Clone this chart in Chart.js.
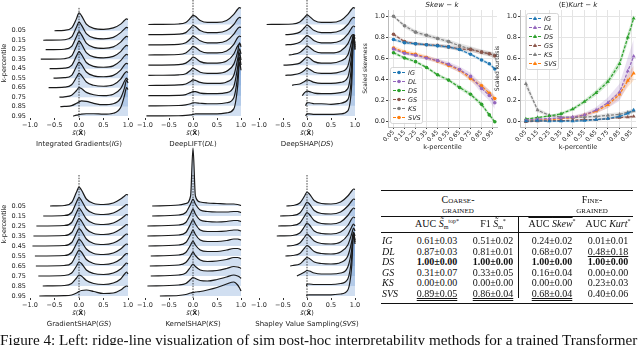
<!DOCTYPE html>
<html>
<head>
<meta charset="utf-8">
<script src="https://cdn.jsdelivr.net/npm/chart.js@4.4.1/dist/chart.umd.min.js"></script>
<style>
  body { margin: 0; width: 640px; height: 345px; overflow: hidden; background: #fff; position: relative; font-family: "DejaVu Sans", sans-serif; color: #222; }
  canvas { position: absolute; }
  .t { position: absolute; white-space: nowrap; transform: translate(-50%, -50%); line-height: 1; }
  .serif { font-family: "Liberation Serif", serif; color: #111; }
  .rule { position: absolute; background: #111; }
  .u1 { text-decoration: underline; text-underline-offset: 1px; }
  .u2 { text-decoration: underline double; text-underline-offset: 1px; }
</style>
</head>
<body>

<canvas id="rIG" width="138" height="130" style="left:0;top:0"></canvas>
<canvas id="rDL" width="136" height="130" style="left:115px;top:0"></canvas>
<canvas id="rDS" width="136" height="130" style="left:229px;top:0"></canvas>
<canvas id="rGS" width="138" height="170" style="left:0;top:140px"></canvas>
<canvas id="rKS" width="136" height="170" style="left:115px;top:140px"></canvas>
<canvas id="rSVS" width="136" height="170" style="left:229px;top:140px"></canvas>
<canvas id="skew" width="139" height="151" style="left:362px;top:0"></canvas>
<canvas id="kurt" width="146" height="151" style="left:494px;top:0"></canvas>

<div id="labels"></div>
<div id="table"></div>

<div class="serif" style="position:absolute;left:0;top:332px;font-size:15.2px;line-height:16px;white-space:nowrap">Figure 4: Left: ridge-line visualization of sim post-hoc interpretability methods for a trained Transformer</div>

<script>
// ridge-line data -----------------------------------------------------
const kLabels = ['0.05', '0.15', '0.25', '0.35', '0.45', '0.55', '0.65', '0.75', '0.85', '0.95'];
const gridX = [-0.3, -0.15, -0.05, 0, 0.05, 0.15, 0.3, 0.5, 0.7, 0.85, 0.93, 0.97, 1.0];

const igStart = [-0.5, -0.73, -0.68, -0.78, -0.6, -0.52, -0.62, -0.4, -0.38, -0.12];
const igRows = [
  [0.05, 0.3, 1.3, 1.9, 1.6, 0.7, 0.25, 0.15, 0.3, 0.7, 1.1, 1.25, 1.2],
  [0.05, 0.35, 1.4, 1.9, 1.6, 0.7, 0.25, 0.15, 0.3, 0.8, 1.2, 1.35, 1.3],
  [0.05, 0.35, 1.4, 1.9, 1.6, 0.7, 0.25, 0.15, 0.3, 0.8, 1.25, 1.4, 1.35],
  [0.05, 0.35, 1.4, 1.9, 1.6, 0.7, 0.25, 0.15, 0.3, 0.8, 1.3, 1.45, 1.4],
  [0.05, 0.35, 1.35, 1.8, 1.5, 0.65, 0.25, 0.15, 0.3, 0.85, 1.35, 1.5, 1.45],
  [0.05, 0.3, 1.25, 1.7, 1.45, 0.65, 0.25, 0.15, 0.3, 0.85, 1.4, 1.55, 1.5],
  [0.05, 0.3, 1.1, 1.5, 1.3, 0.6, 0.25, 0.15, 0.3, 0.9, 1.5, 1.7, 1.6],
  [0.03, 0.2, 0.7, 1.0, 0.9, 0.5, 0.25, 0.15, 0.3, 0.9, 1.7, 2.0, 1.8],
  [0.02, 0.1, 0.35, 0.5, 0.6, 0.55, 0.35, 0.2, 0.3, 0.9, 2.0, 2.8, 2.5],
  [0.0, 0.0, 0.1, 0.15, 0.2, 0.25, 0.25, 0.2, 0.3, 0.9, 2.2, 3.0, 2.8]
];

const dlStart = [-0.93, -0.93, -0.93, -0.93, -0.93, -0.93, -0.93, -0.93, -0.93, -0.97];
const dlRows = [
  [0.05, 0.2, 0.65, 0.9, 0.8, 0.4, 0.2, 0.2, 0.4, 1.0, 1.5, 1.65, 1.6],
  [0.05, 0.2, 0.65, 0.9, 0.8, 0.4, 0.2, 0.2, 0.4, 1.0, 1.55, 1.7, 1.65],
  [0.05, 0.2, 0.6, 0.85, 0.75, 0.4, 0.2, 0.2, 0.4, 1.05, 1.6, 1.75, 1.7],
  [0.05, 0.2, 0.6, 0.85, 0.75, 0.4, 0.2, 0.2, 0.4, 1.05, 1.7, 1.85, 1.8],
  [0.05, 0.2, 0.55, 0.8, 0.7, 0.35, 0.2, 0.2, 0.4, 1.1, 1.9, 2.1, 2.0],
  [0.05, 0.15, 0.5, 0.7, 0.6, 0.3, 0.2, 0.2, 0.4, 1.1, 2.3, 3.2, 2.8],
  [0.05, 0.15, 0.4, 0.55, 0.5, 0.3, 0.2, 0.2, 0.35, 1.0, 2.6, 3.6, 3.1],
  [0.03, 0.1, 0.3, 0.4, 0.4, 0.25, 0.2, 0.2, 0.3, 0.9, 2.8, 4.2, 3.5],
  [0.03, 0.1, 0.2, 0.3, 0.3, 0.25, 0.2, 0.2, 0.3, 0.8, 2.9, 4.8, 4.0],
  [0.02, 0.05, 0.1, 0.15, 0.2, 0.2, 0.2, 0.2, 0.3, 0.7, 2.9, 5.3, 4.5]
];

const dsStart = [-0.84, -0.45, -0.45, -0.38, -0.49, -0.45, -0.31, -0.1, -0.03, -0.03];
const dsRows = [
  [0.05, 0.25, 0.7, 0.95, 0.8, 0.4, 0.2, 0.2, 0.4, 1.0, 1.5, 1.65, 1.6],
  [0.05, 0.25, 0.7, 0.95, 0.8, 0.4, 0.2, 0.2, 0.4, 1.0, 1.55, 1.7, 1.65],
  [0.05, 0.25, 0.7, 0.9, 0.8, 0.4, 0.2, 0.2, 0.4, 1.05, 1.65, 1.85, 1.75],
  [0.05, 0.25, 0.65, 0.9, 0.75, 0.4, 0.2, 0.2, 0.4, 1.1, 1.9, 2.0, 1.9],
  [0.05, 0.2, 0.6, 0.8, 0.7, 0.35, 0.2, 0.2, 0.4, 1.0, 2.3, 3.0, 2.6],
  [0.05, 0.2, 0.5, 0.7, 0.6, 0.3, 0.2, 0.2, 0.35, 0.9, 2.6, 3.8, 3.2],
  [0.03, 0.15, 0.4, 0.55, 0.5, 0.3, 0.2, 0.2, 0.3, 0.8, 2.9, 4.8, 4.0],
  [0.0, 0.0, 0.3, 0.45, 0.4, 0.25, 0.2, 0.2, 0.3, 0.7, 3.0, 5.8, 4.8],
  [0.0, 0.0, 0.0, 0.3, 0.3, 0.2, 0.2, 0.15, 0.25, 0.6, 3.0, 6.8, 5.6],
  [0.0, 0.0, 0.0, 0.2, 0.2, 0.15, 0.15, 0.15, 0.2, 0.5, 3.0, 7.8, 6.5]
];

const gsStart = [-0.59, -0.73, -0.87, -0.93, -0.95, -0.9, -0.88, -0.83, -0.74, -0.81];
const gsRows = [
  [0.05, 0.35, 1.4, 1.9, 1.6, 0.7, 0.25, 0.15, 0.3, 0.7, 1.0, 1.15, 1.1],
  [0.05, 0.35, 1.4, 1.85, 1.55, 0.7, 0.25, 0.15, 0.3, 0.7, 1.0, 1.15, 1.1],
  [0.05, 0.35, 1.35, 1.8, 1.5, 0.7, 0.25, 0.15, 0.3, 0.7, 1.0, 1.15, 1.1],
  [0.05, 0.35, 1.3, 1.75, 1.5, 0.7, 0.25, 0.15, 0.3, 0.7, 1.0, 1.15, 1.1],
  [0.05, 0.35, 1.3, 1.75, 1.5, 0.7, 0.25, 0.15, 0.3, 0.7, 1.05, 1.2, 1.15],
  [0.05, 0.35, 1.25, 1.7, 1.45, 0.7, 0.25, 0.15, 0.3, 0.7, 1.05, 1.2, 1.15],
  [0.05, 0.3, 1.2, 1.6, 1.4, 0.65, 0.25, 0.15, 0.3, 0.7, 1.1, 1.25, 1.2],
  [0.05, 0.3, 1.0, 1.4, 1.25, 0.6, 0.25, 0.15, 0.3, 0.7, 1.1, 1.3, 1.2],
  [0.05, 0.25, 0.8, 1.1, 1.0, 0.55, 0.25, 0.15, 0.3, 0.7, 1.2, 1.4, 1.2],
  [0.03, 0.1, 0.3, 0.45, 0.55, 0.6, 0.45, 0.25, 0.3, 0.6, 0.9, 1.0, 0.95]
];

const ksStart = [-0.85, -0.85, -0.95, -0.95, -0.93, -0.88, -0.9, -0.88, -0.95, -0.69];
const ksRows = [
  [0.1, 0.25, 1.0, 5.8, 1.0, 0.4, 0.3, 0.25, 0.2, 0.2, 0.15, 0.1, 0.05],
  [0.1, 0.35, 1.2, 1.7, 1.2, 0.6, 0.45, 0.4, 0.4, 0.45, 0.45, 0.4, 0.35],
  [0.1, 0.35, 1.2, 1.7, 1.2, 0.6, 0.45, 0.4, 0.45, 0.55, 0.55, 0.5, 0.45],
  [0.1, 0.35, 1.2, 1.65, 1.2, 0.6, 0.45, 0.45, 0.5, 0.6, 0.6, 0.55, 0.5],
  [0.1, 0.35, 1.15, 1.6, 1.15, 0.6, 0.45, 0.45, 0.55, 0.7, 0.7, 0.65, 0.6],
  [0.1, 0.35, 1.1, 1.5, 1.1, 0.6, 0.45, 0.45, 0.6, 0.75, 0.75, 0.7, 0.6],
  [0.1, 0.35, 1.0, 1.4, 1.05, 0.6, 0.45, 0.5, 0.65, 0.85, 0.85, 0.8, 0.7],
  [0.1, 0.3, 0.9, 1.2, 0.95, 0.6, 0.5, 0.55, 0.75, 0.95, 0.9, 0.85, 0.75],
  [0.1, 0.25, 0.65, 0.85, 0.75, 0.55, 0.5, 0.65, 0.9, 1.1, 1.0, 0.9, 0.75],
  [0.05, 0.15, 0.3, 0.35, 0.4, 0.45, 0.6, 0.85, 1.2, 1.4, 1.1, 0.8, 0.5]
];

const svsStart = [-0.43, -0.56, -0.6, -0.63, -0.42, -0.45, -0.35, -0.21, -0.01, -0.01];
const svsRows = [
  [0.05, 0.3, 1.0, 1.4, 1.2, 0.55, 0.25, 0.2, 0.4, 1.0, 1.5, 1.7, 1.65],
  [0.05, 0.3, 1.0, 1.4, 1.2, 0.55, 0.25, 0.2, 0.4, 1.0, 1.5, 1.7, 1.65],
  [0.05, 0.3, 1.0, 1.35, 1.15, 0.55, 0.25, 0.2, 0.4, 1.05, 1.6, 1.8, 1.7],
  [0.05, 0.3, 0.95, 1.3, 1.1, 0.5, 0.25, 0.2, 0.4, 1.05, 1.7, 1.9, 1.8],
  [0.05, 0.3, 0.9, 1.2, 1.0, 0.5, 0.25, 0.2, 0.4, 1.1, 1.9, 2.2, 2.0],
  [0.05, 0.25, 0.8, 1.05, 0.9, 0.45, 0.25, 0.2, 0.4, 1.1, 2.2, 2.8, 2.5],
  [0.05, 0.2, 0.65, 0.85, 0.75, 0.4, 0.25, 0.2, 0.35, 1.0, 2.4, 3.4, 3.0],
  [0.03, 0.15, 0.4, 0.55, 0.5, 0.3, 0.2, 0.2, 0.3, 0.9, 2.6, 4.3, 3.6],
  [0.0, 0.0, 0.0, 0.2, 0.2, 0.15, 0.15, 0.15, 0.25, 0.7, 2.8, 5.3, 4.4],
  [0.0, 0.0, 0.0, 0.1, 0.12, 0.12, 0.12, 0.12, 0.2, 0.6, 2.9, 6.2, 5.2]
];

// skew / kurt data ------------------------------------------------------
const methods = ['IG', 'DL', 'DS', 'GS', 'KS', 'SVS'];
const kValues = [0.05, 0.15, 0.25, 0.35, 0.45, 0.55, 0.65, 0.75, 0.85, 0.92, 0.97];
const kTicks = [0.05, 0.15, 0.25, 0.35, 0.45, 0.55, 0.65, 0.75, 0.85, 0.95];

const skewIG = [0.78, 0.75, 0.74, 0.73, 0.72, 0.71, 0.685, 0.64, 0.585, 0.55, 0.50];
const skewDL = [0.69, 0.65, 0.63, 0.605, 0.58, 0.545, 0.495, 0.43, 0.315, 0.25, 0.18];
const skewDS = [0.655, 0.605, 0.57, 0.515, 0.445, 0.395, 0.325, 0.26, 0.165, 0.065, 0.0];
const skewGS = [0.83, 0.76, 0.74, 0.73, 0.725, 0.71, 0.69, 0.685, 0.66, 0.645, 0.625];
const skewKS = [1.0, 0.91, 0.85, 0.82, 0.79, 0.76, 0.72, 0.69, 0.66, 0.645, 0.63];
const skewSVS = [0.70, 0.66, 0.64, 0.61, 0.575, 0.535, 0.49, 0.41, 0.34, 0.27, 0.22];

const skewErrIG = [0.015, 0.015, 0.015, 0.015, 0.015, 0.015, 0.015, 0.015, 0.015, 0.015, 0.02];
const skewErrDL = [0.015, 0.015, 0.015, 0.02, 0.02, 0.025, 0.03, 0.035, 0.045, 0.05, 0.06];
const skewErrDS = [0.015, 0.015, 0.015, 0.015, 0.015, 0.015, 0.02, 0.02, 0.02, 0.02, 0.02];
const skewErrGS = [0.015, 0.015, 0.015, 0.015, 0.015, 0.02, 0.02, 0.02, 0.02, 0.02, 0.025];
const skewErrKS = [0.01, 0.02, 0.02, 0.02, 0.02, 0.02, 0.025, 0.025, 0.025, 0.025, 0.025];
const skewErrSVS = [0.02, 0.02, 0.02, 0.02, 0.02, 0.02, 0.02, 0.025, 0.03, 0.03, 0.03];

const kurtIG = [0.005, 0.01, 0.005, 0.005, 0.005, 0.01, 0.02, 0.03, 0.05, 0.08, 0.11];
const kurtDL = [0.015, 0.025, 0.03, 0.035, 0.045, 0.065, 0.11, 0.18, 0.28, 0.48, 0.62];
const kurtDS = [0.025, 0.04, 0.055, 0.075, 0.12, 0.19, 0.275, 0.38, 0.55, 0.80, 0.98];
const kurtGS = [0.0, 0.005, 0.01, 0.01, 0.015, 0.02, 0.02, 0.03, 0.04, 0.045, 0.05];
const kurtKS = [0.36, 0.11, 0.06, 0.045, 0.04, 0.045, 0.05, 0.06, 0.07, 0.09, 0.10];
const kurtSVS = [0.01, 0.015, 0.02, 0.03, 0.04, 0.065, 0.10, 0.16, 0.26, 0.39, 0.46];

const kurtErrIG = [0.01, 0.01, 0.01, 0.01, 0.01, 0.01, 0.01, 0.01, 0.015, 0.015, 0.02];
const kurtErrDL = [0.01, 0.01, 0.01, 0.01, 0.015, 0.02, 0.03, 0.05, 0.08, 0.13, 0.16];
const kurtErrDS = [0.01, 0.01, 0.01, 0.015, 0.015, 0.02, 0.025, 0.03, 0.04, 0.05, 0.04];
const kurtErrGS = [0.005, 0.005, 0.005, 0.005, 0.005, 0.005, 0.01, 0.01, 0.01, 0.015, 0.015];
const kurtErrKS = [0.04, 0.02, 0.015, 0.015, 0.015, 0.015, 0.015, 0.02, 0.02, 0.02, 0.02];
const kurtErrSVS = [0.01, 0.01, 0.01, 0.01, 0.015, 0.015, 0.02, 0.03, 0.04, 0.06, 0.07];

// table data -------------------------------------------------------------
const aucTop = ['0.61±0.03', '0.87±0.03', '1.00±0.00', '0.31±0.07', '0.00±0.00', '0.89±0.05'];
const f1Top = ['0.51±0.02', '0.81±0.01', '1.00±0.00', '0.33±0.05', '0.00±0.00', '0.86±0.04'];
const aucSkew = ['0.24±0.02', '0.68±0.07', '1.00±0.00', '0.16±0.04', '0.00±0.00', '0.68±0.04'];
const aucKurt = ['0.01±0.01', '0.48±0.18', '1.00±0.00', '0.00±0.00', '0.23±0.03', '0.40±0.06'];

// ------------------------------------------------------------------------
Chart.defaults.font.family = 'DejaVu Sans';
Chart.defaults.color = '#222';
Chart.defaults.animation = false;

const colors = ['#1f77b4', '#9467bd', '#2ca02c', '#8c564b', '#7f7f7f', '#ff7f0e'];
const fmt = (v, d) => v.toFixed(d).replace('-', '\u2212');

const zeroLine = {
  id: 'zeroLine',
  afterDatasetsDraw(chart, args, o) {
    const ctx = chart.ctx;
    const px = chart.scales.x.getPixelForValue(0);
    ctx.save();
    ctx.strokeStyle = '#111';
    ctx.lineWidth = 0.8;
    ctx.setLineDash([1.5, 1.2]);
    ctx.beginPath();
    ctx.moveTo(px, chart.scales.y.getPixelForValue(o.top));
    ctx.lineTo(px, chart.chartArea.bottom);
    ctx.stroke();
    ctx.restore();
  }
};

function ridge(id, starts, rows, leftAxis, yMax, dashTop) {
  const n = rows.length;
  const datasets = rows.map((dens, i) => {
    const base = n - 1 - i;
    const pts = [{ x: starts[i], y: base }];
    gridX.forEach((gx, j) => {
      if (gx > starts[i]) pts.push({ x: gx, y: base + dens[j] });
    });
    return {
      data: pts,
      borderColor: '#1a1a1a',
      borderWidth: 1.2,
      pointRadius: 0,
      fill: { value: base },
      backgroundColor: 'rgba(120,160,215,0.34)',
      cubicInterpolationMode: 'monotone',
      clip: false,
      order: base
    };
  });
  new Chart(document.getElementById(id), {
    type: 'line',
    data: { datasets },
    plugins: [zeroLine],
    options: {
      responsive: false,
      devicePixelRatio: 1,
      layout: { padding: { top: yMax > 12 ? 10 : 0, right: 10, left: 0, bottom: 0 } },
      plugins: { legend: { display: false }, tooltip: { enabled: false }, zeroLine: { top: dashTop } },
      scales: {
        x: {
          type: 'linear', min: -1, max: 1,
          afterBuildTicks: s => { s.ticks = [-1, -0.5, 0, 0.5, 1].map(v => ({ value: v })); },
          afterFit: s => { s.height = 12; },
          ticks: { font: { size: 6.5 }, padding: 1, maxRotation: 0, callback: v => fmt(v, 1) },
          grid: { display: true, drawOnChartArea: false, tickLength: 2, color: '#333' },
          border: { display: false }
        },
        y: {
          type: 'linear', min: -0.2, max: yMax,
          afterBuildTicks: s => { s.ticks = kLabels.map((_, i) => ({ value: i })); },
          afterFit: s => { s.width = 30; },
          ticks: { display: leftAxis, font: { size: 6.5 }, padding: 4, callback: v => kLabels[n - 1 - v] },
          title: { display: leftAxis, text: 'k-percentile', font: { size: 6.5 }, padding: 0 },
          grid: { display: false, drawTicks: false },
          border: { display: false }
        }
      }
    }
  });
}

ridge('rIG', igStart, igRows, true, 11.41, 11.41);
ridge('rDL', dlStart, dlRows, false, 11.41, 11.41);
ridge('rDS', dsStart, dsRows, false, 11.41, 11.41);
ridge('rGS', gsStart, gsRows, true, 14.6, 12.1);
ridge('rKS', ksStart, ksRows, false, 14.6, 12.1);
ridge('rSVS', svsStart, svsRows, false, 14.6, 12.1);

// line charts -------------------------------------------------------------
function drawMarker(ctx, style, x, y, r) {
  ctx.beginPath();
  if (style === 'triangle') {
    ctx.moveTo(x, y - r);
    ctx.lineTo(x + r * 0.9, y + r * 0.6);
    ctx.lineTo(x - r * 0.9, y + r * 0.6);
    ctx.closePath();
  } else {
    ctx.arc(x, y, r, 0, Math.PI * 2);
  }
  ctx.fill();
}

const boxLegend = {
  id: 'boxLegend',
  afterDraw(chart, args, o) {
    const ctx = chart.ctx;
    const a = chart.chartArea;
    const lh = 9, w = 32, h = lh * methods.length + 2;
    const x = a.left + o.dx;
    const y = o.bottom ? a.bottom - o.dy - h : a.top + o.dy;
    ctx.save();
    ctx.fillStyle = 'rgba(255,255,255,0.85)';
    ctx.strokeStyle = '#cccccc';
    ctx.lineWidth = 0.8;
    ctx.beginPath();
    ctx.roundRect(x + 0.5, y + 0.5, w, h, 2);
    ctx.fill();
    ctx.stroke();
    methods.forEach((m, i) => {
      const cy = y + 5.5 + i * lh;
      ctx.strokeStyle = colors[i];
      ctx.fillStyle = colors[i];
      ctx.lineWidth = 1.2;
      ctx.setLineDash([3, 1.5]);
      ctx.beginPath();
      ctx.moveTo(x + 3, cy);
      ctx.lineTo(x + 15, cy);
      ctx.stroke();
      ctx.setLineDash([]);
      drawMarker(ctx, o.marker, x + 9, cy, o.marker === 'triangle' ? 2.3 : 1.8);
      ctx.fillStyle = '#222';
      ctx.font = 'italic 6.5px "DejaVu Sans"';
      ctx.textBaseline = 'middle';
      ctx.fillText(m, x + 18, cy + 0.5);
    });
    ctx.restore();
  }
};

function lineChart(id, series, errs, marker, yTitle, legendOpts) {
  const datasets = [];
  series.forEach((vals, i) => {
    const c = colors[i];
    datasets.push({
      data: vals.map((v, j) => ({ x: kValues[j], y: v - errs[i][j] })),
      borderWidth: 0, pointRadius: 0, fill: false, order: 10
    });
    datasets.push({
      data: vals.map((v, j) => ({ x: kValues[j], y: v + errs[i][j] })),
      borderWidth: 0, pointRadius: 0, fill: '-1', backgroundColor: c + '33', order: 10
    });
  });
  series.forEach((vals, i) => {
    datasets.push({
      data: vals.map((v, j) => ({ x: kValues[j], y: v })),
      borderColor: colors[i], backgroundColor: colors[i],
      borderWidth: 1.2, borderDash: [3, 1.5],
      pointStyle: marker, pointRadius: marker === 'triangle' ? 2.3 : 1.8, pointBorderWidth: 0,
      fill: false, order: 1
    });
  });
  new Chart(document.getElementById(id), {
    type: 'line',
    data: { datasets },
    plugins: [boxLegend],
    options: {
      responsive: false,
      devicePixelRatio: 1,
      layout: { padding: { top: 10, right: 3, left: 0, bottom: 0 } },
      plugins: { legend: { display: false }, tooltip: { enabled: false }, boxLegend: legendOpts },
      scales: {
        x: {
          type: 'linear', min: 0, max: 0.99,
          afterBuildTicks: s => { s.ticks = kTicks.map(v => ({ value: v })); },
          afterFit: s => { s.height = 24; },
          ticks: { font: { size: 6 }, padding: 0, minRotation: 45, maxRotation: 45, autoSkip: false, callback: v => fmt(v, 2) },
          title: { display: true, text: 'k-percentile', font: { size: 6.5 }, padding: 0 },
          grid: { color: '#e4e4e4', tickColor: '#444', tickLength: 2 },
          border: { color: '#bbbbbb' }
        },
        y: {
          type: 'linear', min: -0.05, max: 1.06,
          afterBuildTicks: s => { s.ticks = [0, 0.2, 0.4, 0.6, 0.8, 1.0].map(v => ({ value: v })); },
          afterFit: s => { s.width = 26; },
          ticks: { font: { size: 6.5 }, padding: 1, callback: v => fmt(v, 1) },
          title: { display: true, text: yTitle, font: { size: 6 }, padding: 0 },
          grid: { color: '#e4e4e4', tickColor: '#444', tickLength: 2 },
          border: { color: '#bbbbbb' }
        }
      }
    }
  });
}

lineChart('skew',
  [skewIG, skewDL, skewDS, skewGS, skewKS, skewSVS],
  [skewErrIG, skewErrDL, skewErrDS, skewErrGS, skewErrKS, skewErrSVS],
  'circle', 'Scaled skewness', { dx: 2, dy: 4, bottom: true, marker: 'circle' });
lineChart('kurt',
  [kurtIG, kurtDL, kurtDS, kurtGS, kurtKS, kurtSVS],
  [kurtErrIG, kurtErrDL, kurtErrDS, kurtErrGS, kurtErrKS, kurtErrSVS],
  'triangle', 'Scaled kurtosis', { dx: 6, dy: 3, bottom: false, marker: 'triangle' });

// text labels -------------------------------------------------------------
const xLab = '<i>s\u0303</i>(<b>X\u0304</b>)';
const labels = [
  [79, 133, 6.5, xLab], [193, 133, 6.5, xLab], [307, 133, 6.5, xLab],
  [79, 313, 6.5, xLab], [193, 313, 6.5, xLab], [307, 313, 6.5, xLab],
  [79, 144, 7, 'Integrated Gradients(<i>IG</i>)'],
  [193, 144, 7, 'DeepLIFT(<i>DL</i>)'],
  [307, 144, 7, 'DeepSHAP(<i>DS</i>)'],
  [79, 324, 7, 'GradientSHAP(<i>GS</i>)'],
  [193, 324, 7, 'KernelSHAP(<i>KS</i>)'],
  [307, 324, 7, 'Shapley Value Sampling(<i>SVS</i>)'],
  [442, 5, 7, '<i>Skew \u2212 k</i>'],
  [578, 5, 7, '(E)<i>Kurt \u2212 k</i>']
];
document.getElementById('labels').innerHTML = labels.map(([x, y, s, h]) =>
  `<div class="t" style="left:${x}px;top:${y}px;font-size:${s}px">${h}</div>`).join('');

// table -------------------------------------------------------------------
const colX = [437, 493, 552, 608];
const rowY = [241, 251.5, 262, 272.5, 283, 293.5];
const boldRow = 2;
const single = { '1,3': true };
const double = { '5,0': true, '5,1': true, '5,2': true };
const cols = [aucTop, f1Top, aucSkew, aucKurt];
let html = '';
const rule = (y, h) => `<div class="rule" style="left:381px;width:252px;top:${y}px;height:${h}px"></div>`;
html += rule(190, 1.2) + rule(216, 0.6) + rule(231.5, 0.6) + rule(302.5, 1.2);
html += '<div class="rule" style="left:518px;width:0.6px;top:217px;height:81px"></div>';
const sc = 'font-variant:small-caps;font-size:10px';
html += `<div class="t serif" style="left:458px;top:200px;${sc}">Coarse-</div>`;
html += `<div class="t serif" style="left:458px;top:210px;${sc}">grained</div>`;
html += `<div class="t serif" style="left:592px;top:200px;${sc}">Fine-</div>`;
html += `<div class="t serif" style="left:592px;top:210px;${sc}">grained</div>`;
const heads = [
  'AUC <i>S\u0303</i><span style="font-size:6px;position:relative;top:2px">m</span><span style="font-size:6px;position:relative;top:-4px">top*</span>',
  'F1 <i>S\u0303</i><span style="font-size:6px;position:relative;top:2px">m</span><span style="font-size:6px;position:relative;top:-4px">*</span>',
  '<span style="text-decoration:overline">AUC <i>Skew</i></span><span style="font-size:6px;position:relative;top:-4px">*</span>',
  'AUC <i>Kurt</i><span style="font-size:6px;position:relative;top:-4px">*</span>'
];
heads.forEach((h, c) => {
  html += `<div class="t serif" style="left:${colX[c]}px;top:224px;font-size:10px">${h}</div>`;
});
methods.forEach((m, r) => {
  html += `<div class="serif" style="position:absolute;left:382px;top:${rowY[r]}px;transform:translateY(-50%);font-size:10px;line-height:1;font-style:italic">${m}</div>`;
  cols.forEach((col, c) => {
    let cls = 't serif';
    if (single[r + ',' + c]) cls += ' u1';
    if (double[r + ',' + c]) cls += ' u2';
    const w = r === boldRow ? 'bold' : 'normal';
    html += `<div class="${cls}" style="left:${colX[c]}px;top:${rowY[r]}px;font-size:10px;font-weight:${w}">${col[r]}</div>`;
  });
});
document.getElementById('table').innerHTML = html;
</script>
</body>
</html>
